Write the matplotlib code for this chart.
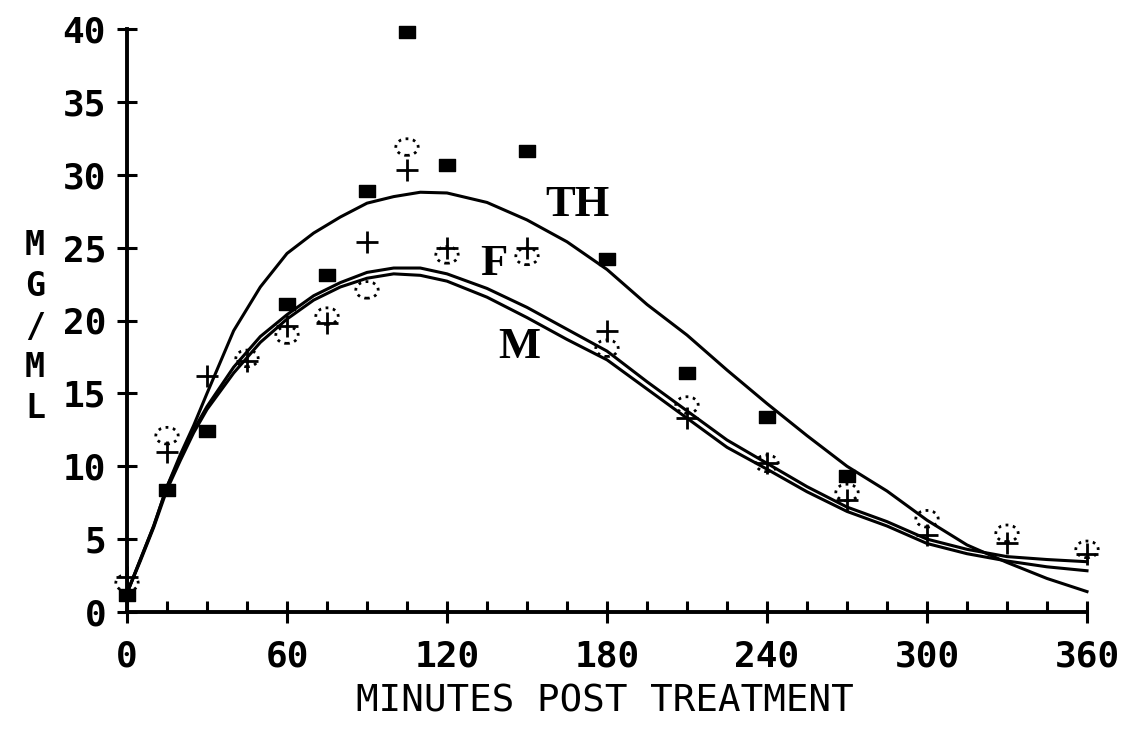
import numpy as np
import matplotlib
matplotlib.use("Agg")
import matplotlib.pyplot as plt
from matplotlib.path import Path
from matplotlib.transforms import Affine2D

# Fitted curves
curve_x = [0, 5, 10, 15, 20, 25, 30, 40, 50, 60, 70, 80, 90, 100, 110, 120,
           135, 150, 165, 180, 195, 210, 225, 240, 255, 270, 285, 300, 315,
           330, 345, 360]
curve_th = [1.3, 3.6, 5.9, 8.6, 10.8, 12.8, 15.0, 19.3, 22.3, 24.6, 26.0,
            27.1, 28.05, 28.5, 28.8, 28.75, 28.1, 26.9, 25.4, 23.5, 21.1,
            19.0, 16.6, 14.3, 12.1, 10.0, 8.3, 6.3, 4.6, 3.4, 2.3, 1.4]
curve_f = [1.3, 3.6, 5.9, 8.6, 10.6, 12.5, 14.1, 16.8, 18.9, 20.4, 21.7,
           22.6, 23.3, 23.6, 23.6, 23.2, 22.2, 20.9, 19.4, 17.9, 15.8, 13.8,
           11.8, 10.2, 8.6, 7.2, 6.2, 5.0, 4.3, 3.8, 3.6, 3.45]
curve_m = [1.3, 3.5, 5.8, 8.4, 10.4, 12.3, 13.9, 16.4, 18.5, 20.1, 21.4,
           22.3, 22.9, 23.2, 23.1, 22.7, 21.6, 20.2, 18.7, 17.3, 15.3, 13.3,
           11.3, 9.8, 8.25, 6.9, 5.9, 4.7, 4.0, 3.5, 3.1, 2.83]

# Observed points
th_x = [0, 15, 30, 60, 75, 90, 105, 120, 150, 180, 210, 240, 270]
th_y = [1.2, 8.4, 12.4, 21.1, 23.1, 28.9, 39.8, 30.7, 31.6, 24.2, 16.4, 13.4, 9.35]

f_x = [0, 15, 30, 45, 60, 75, 90, 105, 120, 150, 180, 210, 240, 270, 300, 330, 360]
f_y = [2.4, 11.0, 16.2, 17.2, 19.6, 19.8, 25.4, 30.3, 25.0, 25.0, 19.3, 13.3,
       10.2, 7.7, 5.3, 4.7, 4.0]

m_x = [0, 15, 45, 60, 75, 90, 105, 120, 150, 180, 210, 240, 270, 300, 330, 360]
m_y = [2.0, 12.1, 17.4, 19.0, 20.3, 22.1, 31.9, 24.5, 24.4, 18.1, 14.2, 10.2,
       8.2, 6.4, 5.4, 4.3]

x_ticks = [0, 60, 120, 180, 240, 300, 360]
y_ticks = [0, 5, 10, 15, 20, 25, 30, 35, 40]

mono = "DejaVu Sans Mono"

fig = plt.figure(figsize=(11.35, 7.38), dpi=100)
ax = fig.add_axes([127 / 1135, 126 / 738, 960 / 1135, 583 / 738])

for cy in (curve_th, curve_f, curve_m):
    ax.plot(curve_x, cy, color="black", lw=2.2, clip_on=False)

rect = Path([(-1.4, -1), (1.4, -1), (1.4, 1), (-1.4, 1), (-1.4, -1)],
            [Path.MOVETO, Path.LINETO, Path.LINETO, Path.LINETO, Path.CLOSEPOLY])
oval = Path.unit_circle().transformed(Affine2D().scale(1.35, 1.0))

ax.scatter(th_x, th_y, marker=rect, s=130, color="black", zorder=3, clip_on=False)
ax.scatter(f_x, f_y, marker="+", s=260, color="black", linewidths=2.0,
           zorder=3, clip_on=False)
ax.scatter(m_x, m_y, marker=oval, s=260, facecolors="none", edgecolors="black",
           linewidths=2.0, linestyle=":", zorder=3, clip_on=False)

ax.text(156.7, 27.2, "TH", fontsize=32, fontweight="bold",
        family="Liberation Serif", ha="left", va="baseline")
ax.text(132.3, 23.1, "F", fontsize=32, fontweight="bold",
        family="Liberation Serif", ha="left", va="baseline")
ax.text(139.1, 17.4, "M", fontsize=32, fontweight="bold",
        family="Liberation Serif", ha="left", va="baseline")

ax.set_xlim(0, 360)
ax.set_ylim(0, 40)
ax.set_xticks(x_ticks)
ax.set_xticks(np.arange(0, 361, 15), minor=True)
ax.set_yticks(y_ticks)

for side in ("top", "right"):
    ax.spines[side].set_visible(False)
for side in ("left", "bottom"):
    ax.spines[side].set_linewidth(2.8)

ax.tick_params(axis="x", which="major", direction="inout", length=16,
               width=2.2, pad=12)
ax.tick_params(axis="x", which="minor", direction="in", length=8, width=2.2)
ax.tick_params(axis="y", which="major", direction="inout", length=14,
               width=2.2, pad=8)

for lab in ax.get_xticklabels() + ax.get_yticklabels():
    lab.set_family(mono)
    lab.set_fontweight("bold")
    lab.set_fontsize(26)

fig.text(35 / 1135, (738 - 327) / 738, "M\nG\n/\nM\nL", family=mono,
         fontweight="bold", fontsize=24, ha="center", va="center",
         linespacing=1.3)
fig.text(605 / 1135, (738 - 702) / 738, "MINUTES POST TREATMENT", family=mono,
         fontsize=27, ha="center", va="center")

fig.savefig("out.png", dpi=100)
